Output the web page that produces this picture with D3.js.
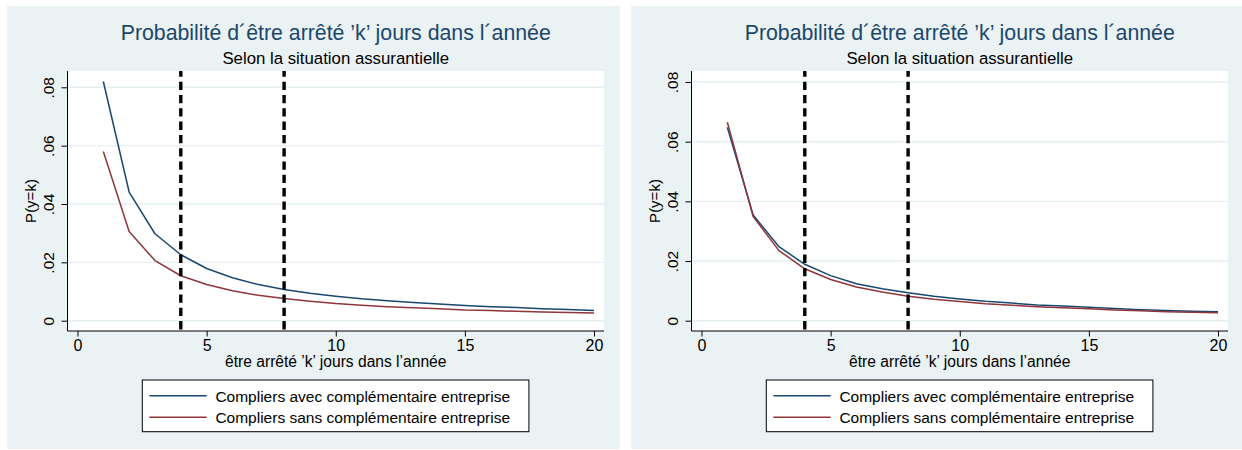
<!DOCTYPE html>
<html><head><meta charset="utf-8">
<script src="https://cdn.jsdelivr.net/npm/d3@7"></script>
<style>
html,body{margin:0;padding:0;background:#fff;}
svg{display:block;font-family:"Liberation Sans",Arial,Helvetica,sans-serif;}
</style>
</head><body>
<svg id="c" width="1242" height="450"></svg>
<script>
// ---- data ----
const days = [1,2,3,4,5,6,7,8,9,10,11,12,13,14,15,16,17,18,19,20];
const leftAvec  = [.0820,.0441,.0298,.0226,.0179,.0147,.0124,.0107,.0094,.0084,.0075,.0068,.0062,.0057,.0052,.0048,.0045,.0041,.0038,.0035];
const leftSans  = [.0580,.0306,.0206,.0154,.0124,.0103,.0087,.0076,.0067,.0059,.0053,.0048,.0044,.0041,.0037,.0035,.0032,.0030,.0028,.0026];
const rightAvec = [.0648,.0354,.0248,.0189,.0151,.0124,.0107,.0094,.0082,.0073,.0065,.0059,.0053,.0049,.0045,.0041,.0037,.0034,.0032,.0030];
const rightSans = [.0665,.0349,.0235,.0174,.0138,.0113,.0096,.0082,.0072,.0064,.0057,.0052,.0047,.0043,.0040,.0036,.0033,.0030,.0028,.0027];
const xTicks = [0,5,10,15,20];
const yTicks = [0,.02,.04,.06,.08];
const yTickLabels = ["0",".02",".04",".06",".08"];
const refLines = [4,8];
const seriesNames = ["Compliers avec complémentaire entreprise","Compliers sans complémentaire entreprise"];
const seriesColors = ["#1A476F","#90353B"];
const titleText = "Probabilité d\u00B4être arrêté \u2019k\u2019 jours dans l\u00B4année";
const subtitleText = "Selon la situation assurantielle";
const xTitle = "être arrêté \u2019k\u2019 jours dans l\u2019année";
const yTitle = "P(y=k)";

const svg = d3.select("#c");
const BG = "#EAF2F3";

function drawPanel(ox, yTopPix, avec, sans) {
  const g = svg.append("g").attr("transform", `translate(${ox},0)`);
  const plot = {l:67.5, r:604, t:71, b:331};
  g.append("rect").attr("x",7).attr("y",6).attr("width",613).attr("height",443).attr("fill",BG);
  g.append("rect").attr("x",plot.l).attr("y",plot.t).attr("width",plot.r-plot.l).attr("height",plot.b-plot.t).attr("fill","#fff");

  const x = d3.scaleLinear().domain([0,20]).range([77.5,594]);
  const y = d3.scaleLinear().domain([0,0.08]).range([320.7, yTopPix]);

  // grid
  g.append("g").selectAll("line").data(yTicks).join("line")
    .attr("x1",plot.l).attr("x2",plot.r)
    .attr("y1",d=>y(d)).attr("y2",d=>y(d))
    .attr("stroke","#E6EFF1").attr("stroke-width",1.4);

  // curves
  const line = d3.line().x((d,i)=>x(days[i])).y(d=>y(d));
  [avec, sans].forEach((s,i)=>{
    g.append("path").datum(s).attr("d",line)
      .attr("fill","none").attr("stroke",seriesColors[i]).attr("stroke-width",1.5)
      .attr("stroke-linejoin","round");
  });

  // reference lines
  g.append("g").selectAll("line").data(refLines).join("line")
    .attr("x1",d=>x(d)).attr("x2",d=>x(d))
    .attr("y1",plot.t).attr("y2",plot.b)
    .attr("stroke","#000").attr("stroke-width",3.4)
    .attr("stroke-dasharray","8.3,5").attr("stroke-dashoffset",2.6);

  // axes
  const ax = g.append("g").attr("transform",`translate(0,${plot.b})`)
    .call(d3.axisBottom(x).tickValues(xTicks).tickSize(5.5).tickSizeOuter(0));
  ax.select(".domain").remove();
  ax.selectAll("text").attr("y",20).attr("dy",null).attr("font-size",16).attr("fill","#000")
    .attr("font-family","Liberation Sans, Arial, sans-serif");
  ax.selectAll("line").attr("stroke","#000");

  const ay = g.append("g").attr("transform",`translate(${plot.l},0)`)
    .call(d3.axisLeft(y).tickValues(yTicks).tickFormat((d,i)=>yTickLabels[i]).tickSize(6).tickSizeOuter(0));
  ay.select(".domain").remove();
  ay.selectAll("text").attr("x",null).attr("dy",null)
    .attr("transform","translate(-14,0) rotate(-90)")
    .attr("text-anchor","middle").attr("font-size",15.5).attr("fill","#000")
    .attr("font-family","Liberation Sans, Arial, sans-serif");
  ay.selectAll("line").attr("stroke","#000");

  g.append("line").attr("x1",plot.l).attr("x2",plot.r).attr("y1",plot.b).attr("y2",plot.b).attr("stroke","#000").attr("stroke-width",1);
  g.append("line").attr("x1",plot.l).attr("x2",plot.l).attr("y1",plot.t).attr("y2",plot.b).attr("stroke","#000").attr("stroke-width",1);

  const cx = (plot.l+plot.r)/2;
  g.append("text").attr("x",cx).attr("y",39.5).attr("text-anchor","middle")
    .attr("font-size",21.3).attr("fill","#1A476F").text(titleText);
  g.append("text").attr("x",cx).attr("y",64.3).attr("text-anchor","middle")
    .attr("font-size",16.8).attr("fill","#000").text(subtitleText);
  g.append("text").attr("x",cx).attr("y",366.5).attr("text-anchor","middle")
    .attr("font-size",15.6).attr("fill","#000").text(xTitle);
  g.append("text").attr("transform",`translate(36,${(plot.t+plot.b)/2}) rotate(-90)`)
    .attr("text-anchor","middle").attr("font-size",15).attr("fill","#000").text(yTitle);

  // legend
  const lg = g.append("g");
  lg.append("rect").attr("x",142.3).attr("y",380).attr("width",386.6).attr("height",51.7)
    .attr("fill","#fff").attr("stroke","#000").attr("stroke-width",1);
  const rows = [395.7, 417.3];
  seriesNames.forEach((n,i)=>{
    lg.append("line").attr("x1",149.4).attr("x2",206.7).attr("y1",rows[i]).attr("y2",rows[i])
      .attr("stroke",seriesColors[i]).attr("stroke-width",1.4);
    lg.append("text").attr("x",215.4).attr("y",rows[i]+6).attr("font-size",15.5).attr("fill","#000").text(n);
  });
}

drawPanel(0, 87.3, leftAvec, leftSans);
drawPanel(624, 82, rightAvec, rightSans);
</script>
</body></html>
